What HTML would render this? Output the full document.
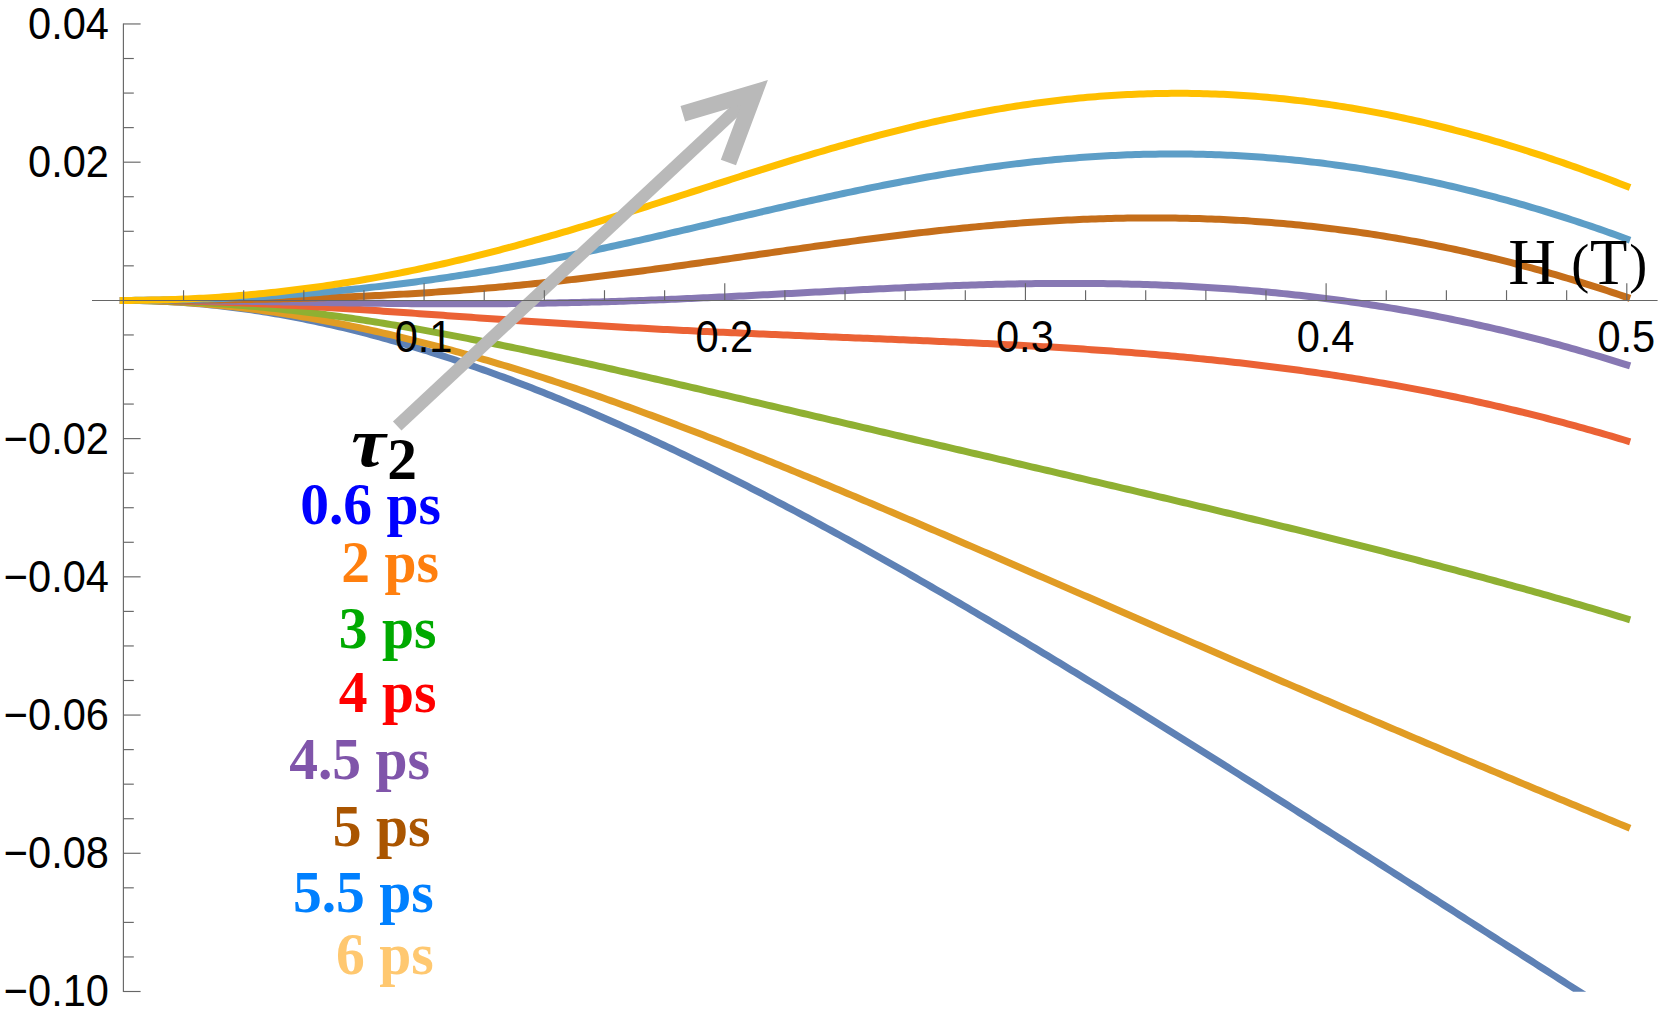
<!DOCTYPE html>
<html><head><meta charset="utf-8"><title>plot</title>
<style>
html,body{margin:0;padding:0;background:#fff;}
body{width:1661px;height:1016px;overflow:hidden;}
svg{display:block;}
.tk{font-family:"Liberation Sans",Arial,sans-serif;font-size:44.5px;fill:#000;}
.lg{font-family:"Liberation Serif","Times New Roman",serif;font-weight:bold;font-size:59.6px;}
.ax{font-family:"Liberation Serif","Times New Roman",serif;fill:#000;}
</style></head><body>
<svg width="1661" height="1016" viewBox="0 0 1661 1016">
<rect width="1661" height="1016" fill="#fff"/>
<defs><clipPath id="cp"><rect x="100" y="20" width="1561" height="971.8"/></clipPath></defs>
<g clip-path="url(#cp)" fill="none" stroke-width="7" stroke-linejoin="round" stroke-linecap="square">
<path d="M123.4,300.40 L127.4,300.41 L131.4,300.44 L135.4,300.48 L139.4,300.55 L143.4,300.63 L147.4,300.74 L151.4,300.86 L155.4,301.00 L159.4,301.16 L163.4,301.34 L167.4,301.53 L171.4,301.75 L175.4,301.98 L179.4,302.23 L183.4,302.50 L187.4,302.79 L191.4,303.10 L195.4,303.42 L199.4,303.77 L203.4,304.13 L207.4,304.51 L211.4,304.91 L215.4,305.32 L219.4,305.76 L223.4,306.21 L227.4,306.68 L231.4,307.16 L235.4,307.67 L239.4,308.19 L243.4,308.73 L247.4,309.29 L251.4,309.87 L255.4,310.46 L259.4,311.07 L263.4,311.70 L267.4,312.34 L271.4,313.00 L275.4,313.68 L279.4,314.37 L283.4,315.09 L287.4,315.81 L291.4,316.56 L295.4,317.32 L299.4,318.10 L303.4,318.89 L307.4,319.70 L311.4,320.53 L315.4,321.37 L319.4,322.23 L323.4,323.10 L327.4,323.99 L331.4,324.90 L335.4,325.82 L339.4,326.75 L343.4,327.70 L347.4,328.67 L351.4,329.65 L355.4,330.65 L359.4,331.66 L363.4,332.68 L367.4,333.73 L371.4,334.78 L375.4,335.85 L379.4,336.93 L383.4,338.03 L387.4,339.15 L391.4,340.27 L395.4,341.41 L399.4,342.57 L403.4,343.74 L407.4,344.92 L411.4,346.11 L415.4,347.32 L419.4,348.55 L423.4,349.78 L427.4,351.03 L431.4,352.29 L435.4,353.57 L439.4,354.86 L443.4,356.16 L447.4,357.47 L451.4,358.80 L455.4,360.14 L459.4,361.49 L463.4,362.85 L467.4,364.23 L471.4,365.62 L475.4,367.02 L479.4,368.43 L483.4,369.85 L487.4,371.29 L491.4,372.74 L495.4,374.20 L499.4,375.67 L503.4,377.15 L507.4,378.65 L511.4,380.15 L515.4,381.67 L519.4,383.20 L523.4,384.73 L527.4,386.28 L531.4,387.84 L535.4,389.42 L539.4,391.00 L543.4,392.59 L547.4,394.19 L551.4,395.81 L555.4,397.43 L559.4,399.07 L563.4,400.71 L567.4,402.37 L571.4,404.03 L575.4,405.71 L579.4,407.39 L583.4,409.09 L587.4,410.79 L591.4,412.51 L595.4,414.23 L599.4,415.97 L603.4,417.71 L607.4,419.46 L611.4,421.23 L615.4,423.00 L619.4,424.78 L623.4,426.57 L627.4,428.37 L631.4,430.18 L635.4,431.99 L639.4,433.82 L643.4,435.66 L647.4,437.50 L651.4,439.35 L655.4,441.21 L659.4,443.08 L663.4,444.96 L667.4,446.85 L671.4,448.74 L675.4,450.64 L679.4,452.56 L683.4,454.47 L687.4,456.40 L691.4,458.34 L695.4,460.28 L699.4,462.23 L703.4,464.19 L707.4,466.16 L711.4,468.13 L715.4,470.12 L719.4,472.11 L723.4,474.10 L727.4,476.11 L731.4,478.12 L735.4,480.14 L739.4,482.17 L743.4,484.20 L747.4,486.24 L751.4,488.29 L755.4,490.35 L759.4,492.41 L763.4,494.48 L767.4,496.55 L771.4,498.64 L775.4,500.73 L779.4,502.82 L783.4,504.93 L787.4,507.04 L791.4,509.15 L795.4,511.27 L799.4,513.40 L803.4,515.54 L807.4,517.68 L811.4,519.83 L815.4,521.98 L819.4,524.14 L823.4,526.31 L827.4,528.48 L831.4,530.66 L835.4,532.84 L839.4,535.03 L843.4,537.22 L847.4,539.42 L851.4,541.63 L855.4,543.84 L859.4,546.06 L863.4,548.28 L867.4,550.51 L871.4,552.75 L875.4,554.98 L879.4,557.23 L883.4,559.48 L887.4,561.73 L891.4,563.99 L895.4,566.26 L899.4,568.53 L903.4,570.80 L907.4,573.08 L911.4,575.37 L915.4,577.66 L919.4,579.95 L923.4,582.25 L927.4,584.55 L931.4,586.86 L935.4,589.17 L939.4,591.49 L943.4,593.81 L947.4,596.14 L951.4,598.47 L955.4,600.80 L959.4,603.14 L963.4,605.48 L967.4,607.83 L971.4,610.18 L975.4,612.53 L979.4,614.89 L983.4,617.26 L987.4,619.62 L991.4,621.99 L995.4,624.37 L999.4,626.75 L1003.4,629.13 L1007.4,631.51 L1011.4,633.90 L1015.4,636.30 L1019.4,638.69 L1023.4,641.09 L1027.4,643.49 L1031.4,645.90 L1035.4,648.31 L1039.4,650.72 L1043.4,653.14 L1047.4,655.56 L1051.4,657.98 L1055.4,660.41 L1059.4,662.84 L1063.4,665.27 L1067.4,667.70 L1071.4,670.14 L1075.4,672.58 L1079.4,675.02 L1083.4,677.47 L1087.4,679.92 L1091.4,682.37 L1095.4,684.83 L1099.4,687.28 L1103.4,689.74 L1107.4,692.21 L1111.4,694.67 L1115.4,697.14 L1119.4,699.61 L1123.4,702.08 L1127.4,704.55 L1131.4,707.03 L1135.4,709.51 L1139.4,711.99 L1143.4,714.48 L1147.4,716.96 L1151.4,719.45 L1155.4,721.94 L1159.4,724.43 L1163.4,726.93 L1167.4,729.42 L1171.4,731.92 L1175.4,734.42 L1179.4,736.92 L1183.4,739.43 L1187.4,741.93 L1191.4,744.44 L1195.4,746.95 L1199.4,749.46 L1203.4,751.97 L1207.4,754.49 L1211.4,757.00 L1215.4,759.52 L1219.4,762.04 L1223.4,764.56 L1227.4,767.08 L1231.4,769.60 L1235.4,772.13 L1239.4,774.66 L1243.4,777.18 L1247.4,779.71 L1251.4,782.24 L1255.4,784.77 L1259.4,787.31 L1263.4,789.84 L1267.4,792.38 L1271.4,794.91 L1275.4,797.45 L1279.4,799.99 L1283.4,802.53 L1287.4,805.07 L1291.4,807.61 L1295.4,810.15 L1299.4,812.70 L1303.4,815.24 L1307.4,817.79 L1311.4,820.33 L1315.4,822.88 L1319.4,825.43 L1323.4,827.98 L1327.4,830.53 L1331.4,833.08 L1335.4,835.63 L1339.4,838.18 L1343.4,840.73 L1347.4,843.29 L1351.4,845.84 L1355.4,848.39 L1359.4,850.95 L1363.4,853.50 L1367.4,856.06 L1371.4,858.62 L1375.4,861.17 L1379.4,863.73 L1383.4,866.29 L1387.4,868.85 L1391.4,871.40 L1395.4,873.96 L1399.4,876.52 L1403.4,879.08 L1407.4,881.64 L1411.4,884.20 L1415.4,886.76 L1419.4,889.32 L1423.4,891.89 L1427.4,894.45 L1431.4,897.01 L1435.4,899.57 L1439.4,902.13 L1443.4,904.69 L1447.4,907.26 L1451.4,909.82 L1455.4,912.38 L1459.4,914.94 L1463.4,917.50 L1467.4,920.07 L1471.4,922.63 L1475.4,925.19 L1479.4,927.75 L1483.4,930.32 L1487.4,932.88 L1491.4,935.44 L1495.4,938.00 L1499.4,940.57 L1503.4,943.13 L1507.4,945.69 L1511.4,948.25 L1515.4,950.81 L1519.4,953.37 L1523.4,955.93 L1527.4,958.50 L1531.4,961.06 L1535.4,963.62 L1539.4,966.18 L1543.4,968.74 L1547.4,971.30 L1551.4,973.86 L1555.4,976.42 L1559.4,978.97 L1563.4,981.53 L1567.4,984.09 L1571.4,986.65 L1575.4,989.21 L1579.4,991.76 L1583.4,994.32 L1587.4,996.88 L1591.4,999.43 L1595.4,1001.99 L1599.4,1004.54 L1603.4,1007.10 L1607.4,1009.65 L1611.4,1012.21 L1615.4,1014.76 L1619.4,1017.31 L1623.4,1019.87 L1626.8,1022.04" stroke="#5E81B5"/>
<path d="M123.4,300.40 L127.4,300.41 L131.4,300.44 L135.4,300.48 L139.4,300.54 L143.4,300.62 L147.4,300.72 L151.4,300.83 L155.4,300.97 L159.4,301.12 L163.4,301.28 L167.4,301.47 L171.4,301.67 L175.4,301.89 L179.4,302.12 L183.4,302.37 L187.4,302.64 L191.4,302.93 L195.4,303.23 L199.4,303.54 L203.4,303.88 L207.4,304.22 L211.4,304.59 L215.4,304.97 L219.4,305.36 L223.4,305.77 L227.4,306.20 L231.4,306.64 L235.4,307.09 L239.4,307.56 L243.4,308.05 L247.4,308.54 L251.4,309.05 L255.4,309.58 L259.4,310.12 L263.4,310.67 L267.4,311.24 L271.4,311.82 L275.4,312.41 L279.4,313.02 L283.4,313.64 L287.4,314.27 L291.4,314.92 L295.4,315.58 L299.4,316.25 L303.4,316.93 L307.4,317.63 L311.4,318.33 L315.4,319.05 L319.4,319.79 L323.4,320.53 L327.4,321.29 L331.4,322.05 L335.4,322.83 L339.4,323.63 L343.4,324.43 L347.4,325.24 L351.4,326.07 L355.4,326.91 L359.4,327.76 L363.4,328.62 L367.4,329.49 L371.4,330.37 L375.4,331.26 L379.4,332.17 L383.4,333.08 L387.4,334.01 L391.4,334.94 L395.4,335.89 L399.4,336.85 L403.4,337.82 L407.4,338.80 L411.4,339.79 L415.4,340.79 L419.4,341.80 L423.4,342.82 L427.4,343.85 L431.4,344.89 L435.4,345.94 L439.4,347.00 L443.4,348.06 L447.4,349.14 L451.4,350.23 L455.4,351.33 L459.4,352.44 L463.4,353.56 L467.4,354.69 L471.4,355.82 L475.4,356.97 L479.4,358.12 L483.4,359.29 L487.4,360.46 L491.4,361.64 L495.4,362.83 L499.4,364.03 L503.4,365.24 L507.4,366.46 L511.4,367.69 L515.4,368.92 L519.4,370.16 L523.4,371.41 L527.4,372.67 L531.4,373.94 L535.4,375.22 L539.4,376.50 L543.4,377.79 L547.4,379.09 L551.4,380.40 L555.4,381.71 L559.4,383.04 L563.4,384.37 L567.4,385.71 L571.4,387.05 L575.4,388.40 L579.4,389.76 L583.4,391.13 L587.4,392.51 L591.4,393.89 L595.4,395.28 L599.4,396.67 L603.4,398.07 L607.4,399.48 L611.4,400.90 L615.4,402.32 L619.4,403.75 L623.4,405.18 L627.4,406.62 L631.4,408.07 L635.4,409.53 L639.4,410.98 L643.4,412.45 L647.4,413.92 L651.4,415.40 L655.4,416.88 L659.4,418.37 L663.4,419.87 L667.4,421.37 L671.4,422.87 L675.4,424.38 L679.4,425.90 L683.4,427.42 L687.4,428.95 L691.4,430.48 L695.4,432.02 L699.4,433.56 L703.4,435.11 L707.4,436.66 L711.4,438.22 L715.4,439.78 L719.4,441.34 L723.4,442.91 L727.4,444.49 L731.4,446.07 L735.4,447.65 L739.4,449.24 L743.4,450.83 L747.4,452.42 L751.4,454.02 L755.4,455.63 L759.4,457.24 L763.4,458.85 L767.4,460.46 L771.4,462.08 L775.4,463.70 L779.4,465.33 L783.4,466.96 L787.4,468.59 L791.4,470.23 L795.4,471.87 L799.4,473.51 L803.4,475.16 L807.4,476.81 L811.4,478.46 L815.4,480.11 L819.4,481.77 L823.4,483.43 L827.4,485.10 L831.4,486.76 L835.4,488.43 L839.4,490.10 L843.4,491.78 L847.4,493.46 L851.4,495.14 L855.4,496.82 L859.4,498.50 L863.4,500.19 L867.4,501.88 L871.4,503.57 L875.4,505.26 L879.4,506.96 L883.4,508.65 L887.4,510.35 L891.4,512.05 L895.4,513.76 L899.4,515.46 L903.4,517.17 L907.4,518.87 L911.4,520.58 L915.4,522.30 L919.4,524.01 L923.4,525.72 L927.4,527.44 L931.4,529.16 L935.4,530.88 L939.4,532.60 L943.4,534.32 L947.4,536.04 L951.4,537.76 L955.4,539.49 L959.4,541.21 L963.4,542.94 L967.4,544.67 L971.4,546.40 L975.4,548.13 L979.4,549.86 L983.4,551.59 L987.4,553.33 L991.4,555.06 L995.4,556.80 L999.4,558.53 L1003.4,560.27 L1007.4,562.00 L1011.4,563.74 L1015.4,565.48 L1019.4,567.22 L1023.4,568.96 L1027.4,570.70 L1031.4,572.44 L1035.4,574.18 L1039.4,575.92 L1043.4,577.66 L1047.4,579.40 L1051.4,581.14 L1055.4,582.88 L1059.4,584.63 L1063.4,586.37 L1067.4,588.11 L1071.4,589.86 L1075.4,591.60 L1079.4,593.34 L1083.4,595.09 L1087.4,596.83 L1091.4,598.57 L1095.4,600.32 L1099.4,602.06 L1103.4,603.80 L1107.4,605.55 L1111.4,607.29 L1115.4,609.03 L1119.4,610.78 L1123.4,612.52 L1127.4,614.26 L1131.4,616.01 L1135.4,617.75 L1139.4,619.49 L1143.4,621.23 L1147.4,622.97 L1151.4,624.72 L1155.4,626.46 L1159.4,628.20 L1163.4,629.94 L1167.4,631.68 L1171.4,633.42 L1175.4,635.16 L1179.4,636.90 L1183.4,638.63 L1187.4,640.37 L1191.4,642.11 L1195.4,643.85 L1199.4,645.58 L1203.4,647.32 L1207.4,649.06 L1211.4,650.79 L1215.4,652.52 L1219.4,654.26 L1223.4,655.99 L1227.4,657.72 L1231.4,659.46 L1235.4,661.19 L1239.4,662.92 L1243.4,664.65 L1247.4,666.38 L1251.4,668.11 L1255.4,669.84 L1259.4,671.57 L1263.4,673.29 L1267.4,675.02 L1271.4,676.75 L1275.4,678.47 L1279.4,680.19 L1283.4,681.92 L1287.4,683.64 L1291.4,685.36 L1295.4,687.09 L1299.4,688.81 L1303.4,690.53 L1307.4,692.25 L1311.4,693.96 L1315.4,695.68 L1319.4,697.40 L1323.4,699.11 L1327.4,700.83 L1331.4,702.54 L1335.4,704.26 L1339.4,705.97 L1343.4,707.68 L1347.4,709.40 L1351.4,711.11 L1355.4,712.82 L1359.4,714.52 L1363.4,716.23 L1367.4,717.94 L1371.4,719.65 L1375.4,721.35 L1379.4,723.06 L1383.4,724.76 L1387.4,726.46 L1391.4,728.17 L1395.4,729.87 L1399.4,731.57 L1403.4,733.27 L1407.4,734.97 L1411.4,736.67 L1415.4,738.36 L1419.4,740.06 L1423.4,741.76 L1427.4,743.45 L1431.4,745.15 L1435.4,746.84 L1439.4,748.53 L1443.4,750.22 L1447.4,751.91 L1451.4,753.60 L1455.4,755.29 L1459.4,756.98 L1463.4,758.67 L1467.4,760.36 L1471.4,762.04 L1475.4,763.73 L1479.4,765.41 L1483.4,767.09 L1487.4,768.78 L1491.4,770.46 L1495.4,772.14 L1499.4,773.82 L1503.4,775.50 L1507.4,777.18 L1511.4,778.85 L1515.4,780.53 L1519.4,782.21 L1523.4,783.88 L1527.4,785.56 L1531.4,787.23 L1535.4,788.90 L1539.4,790.58 L1543.4,792.25 L1547.4,793.92 L1551.4,795.59 L1555.4,797.26 L1559.4,798.93 L1563.4,800.59 L1567.4,802.26 L1571.4,803.93 L1575.4,805.59 L1579.4,807.26 L1583.4,808.92 L1587.4,810.59 L1591.4,812.25 L1595.4,813.91 L1599.4,815.57 L1603.4,817.23 L1607.4,818.89 L1611.4,820.55 L1615.4,822.21 L1619.4,823.87 L1623.4,825.52 L1626.8,826.93" stroke="#E19C24"/>
<path d="M123.4,300.40 L127.4,300.41 L131.4,300.42 L135.4,300.45 L139.4,300.49 L143.4,300.55 L147.4,300.61 L151.4,300.69 L155.4,300.77 L159.4,300.87 L163.4,300.98 L167.4,301.10 L171.4,301.24 L175.4,301.38 L179.4,301.54 L183.4,301.71 L187.4,301.89 L191.4,302.08 L195.4,302.28 L199.4,302.49 L203.4,302.72 L207.4,302.95 L211.4,303.20 L215.4,303.46 L219.4,303.73 L223.4,304.01 L227.4,304.30 L231.4,304.60 L235.4,304.91 L239.4,305.23 L243.4,305.57 L247.4,305.91 L251.4,306.27 L255.4,306.63 L259.4,307.01 L263.4,307.39 L267.4,307.79 L271.4,308.19 L275.4,308.61 L279.4,309.03 L283.4,309.47 L287.4,309.91 L291.4,310.37 L295.4,310.83 L299.4,311.31 L303.4,311.79 L307.4,312.28 L311.4,312.78 L315.4,313.30 L319.4,313.81 L323.4,314.34 L327.4,314.88 L331.4,315.43 L335.4,315.98 L339.4,316.54 L343.4,317.12 L347.4,317.70 L351.4,318.28 L355.4,318.88 L359.4,319.48 L363.4,320.10 L367.4,320.72 L371.4,321.34 L375.4,321.98 L379.4,322.62 L383.4,323.27 L387.4,323.93 L391.4,324.59 L395.4,325.26 L399.4,325.94 L403.4,326.62 L407.4,327.31 L411.4,328.01 L415.4,328.71 L419.4,329.43 L423.4,330.14 L427.4,330.86 L431.4,331.59 L435.4,332.33 L439.4,333.07 L443.4,333.82 L447.4,334.57 L451.4,335.32 L455.4,336.09 L459.4,336.85 L463.4,337.63 L467.4,338.41 L471.4,339.19 L475.4,339.98 L479.4,340.77 L483.4,341.57 L487.4,342.37 L491.4,343.18 L495.4,343.99 L499.4,344.80 L503.4,345.62 L507.4,346.45 L511.4,347.27 L515.4,348.11 L519.4,348.94 L523.4,349.78 L527.4,350.62 L531.4,351.47 L535.4,352.32 L539.4,353.17 L543.4,354.03 L547.4,354.89 L551.4,355.75 L555.4,356.61 L559.4,357.48 L563.4,358.35 L567.4,359.23 L571.4,360.10 L575.4,360.98 L579.4,361.87 L583.4,362.75 L587.4,363.64 L591.4,364.53 L595.4,365.42 L599.4,366.31 L603.4,367.21 L607.4,368.11 L611.4,369.00 L615.4,369.91 L619.4,370.81 L623.4,371.72 L627.4,372.62 L631.4,373.53 L635.4,374.44 L639.4,375.35 L643.4,376.27 L647.4,377.18 L651.4,378.10 L655.4,379.01 L659.4,379.93 L663.4,380.85 L667.4,381.77 L671.4,382.70 L675.4,383.62 L679.4,384.54 L683.4,385.47 L687.4,386.40 L691.4,387.32 L695.4,388.25 L699.4,389.18 L703.4,390.11 L707.4,391.04 L711.4,391.97 L715.4,392.90 L719.4,393.83 L723.4,394.77 L727.4,395.70 L731.4,396.63 L735.4,397.57 L739.4,398.50 L743.4,399.44 L747.4,400.37 L751.4,401.31 L755.4,402.24 L759.4,403.18 L763.4,404.12 L767.4,405.05 L771.4,405.99 L775.4,406.93 L779.4,407.86 L783.4,408.80 L787.4,409.74 L791.4,410.68 L795.4,411.61 L799.4,412.55 L803.4,413.49 L807.4,414.43 L811.4,415.36 L815.4,416.30 L819.4,417.24 L823.4,418.18 L827.4,419.12 L831.4,420.05 L835.4,420.99 L839.4,421.93 L843.4,422.87 L847.4,423.80 L851.4,424.74 L855.4,425.68 L859.4,426.62 L863.4,427.55 L867.4,428.49 L871.4,429.43 L875.4,430.36 L879.4,431.30 L883.4,432.24 L887.4,433.17 L891.4,434.11 L895.4,435.04 L899.4,435.98 L903.4,436.91 L907.4,437.85 L911.4,438.78 L915.4,439.72 L919.4,440.65 L923.4,441.59 L927.4,442.52 L931.4,443.46 L935.4,444.39 L939.4,445.33 L943.4,446.26 L947.4,447.20 L951.4,448.13 L955.4,449.06 L959.4,450.00 L963.4,450.93 L967.4,451.86 L971.4,452.80 L975.4,453.73 L979.4,454.66 L983.4,455.60 L987.4,456.53 L991.4,457.46 L995.4,458.40 L999.4,459.33 L1003.4,460.26 L1007.4,461.20 L1011.4,462.13 L1015.4,463.06 L1019.4,464.00 L1023.4,464.93 L1027.4,465.86 L1031.4,466.80 L1035.4,467.73 L1039.4,468.66 L1043.4,469.60 L1047.4,470.53 L1051.4,471.46 L1055.4,472.40 L1059.4,473.33 L1063.4,474.27 L1067.4,475.20 L1071.4,476.14 L1075.4,477.07 L1079.4,478.01 L1083.4,478.94 L1087.4,479.88 L1091.4,480.82 L1095.4,481.75 L1099.4,482.69 L1103.4,483.63 L1107.4,484.57 L1111.4,485.50 L1115.4,486.44 L1119.4,487.38 L1123.4,488.32 L1127.4,489.26 L1131.4,490.20 L1135.4,491.14 L1139.4,492.09 L1143.4,493.03 L1147.4,493.97 L1151.4,494.91 L1155.4,495.86 L1159.4,496.80 L1163.4,497.75 L1167.4,498.69 L1171.4,499.64 L1175.4,500.59 L1179.4,501.54 L1183.4,502.49 L1187.4,503.44 L1191.4,504.39 L1195.4,505.34 L1199.4,506.29 L1203.4,507.24 L1207.4,508.20 L1211.4,509.15 L1215.4,510.11 L1219.4,511.07 L1223.4,512.03 L1227.4,512.98 L1231.4,513.94 L1235.4,514.91 L1239.4,515.87 L1243.4,516.83 L1247.4,517.80 L1251.4,518.76 L1255.4,519.73 L1259.4,520.70 L1263.4,521.67 L1267.4,522.64 L1271.4,523.61 L1275.4,524.58 L1279.4,525.56 L1283.4,526.54 L1287.4,527.51 L1291.4,528.49 L1295.4,529.47 L1299.4,530.45 L1303.4,531.44 L1307.4,532.42 L1311.4,533.41 L1315.4,534.40 L1319.4,535.39 L1323.4,536.38 L1327.4,537.37 L1331.4,538.37 L1335.4,539.36 L1339.4,540.36 L1343.4,541.36 L1347.4,542.37 L1351.4,543.37 L1355.4,544.38 L1359.4,545.38 L1363.4,546.39 L1367.4,547.40 L1371.4,548.42 L1375.4,549.43 L1379.4,550.45 L1383.4,551.47 L1387.4,552.49 L1391.4,553.52 L1395.4,554.54 L1399.4,555.57 L1403.4,556.60 L1407.4,557.64 L1411.4,558.67 L1415.4,559.71 L1419.4,560.75 L1423.4,561.79 L1427.4,562.84 L1431.4,563.88 L1435.4,564.93 L1439.4,565.99 L1443.4,567.04 L1447.4,568.10 L1451.4,569.16 L1455.4,570.22 L1459.4,571.29 L1463.4,572.36 L1467.4,573.43 L1471.4,574.50 L1475.4,575.58 L1479.4,576.66 L1483.4,577.74 L1487.4,578.82 L1491.4,579.91 L1495.4,581.00 L1499.4,582.10 L1503.4,583.20 L1507.4,584.30 L1511.4,585.40 L1515.4,586.51 L1519.4,587.62 L1523.4,588.73 L1527.4,589.85 L1531.4,590.97 L1535.4,592.09 L1539.4,593.22 L1543.4,594.35 L1547.4,595.48 L1551.4,596.62 L1555.4,597.76 L1559.4,598.91 L1563.4,600.05 L1567.4,601.21 L1571.4,602.36 L1575.4,603.52 L1579.4,604.68 L1583.4,605.85 L1587.4,607.02 L1591.4,608.20 L1595.4,609.38 L1599.4,610.56 L1603.4,611.75 L1607.4,612.94 L1611.4,614.13 L1615.4,615.33 L1619.4,616.53 L1623.4,617.74 L1626.8,618.77" stroke="#8FB032"/>
<path d="M123.4,300.40 L127.4,300.40 L131.4,300.41 L135.4,300.43 L139.4,300.45 L143.4,300.48 L147.4,300.51 L151.4,300.55 L155.4,300.59 L159.4,300.64 L163.4,300.70 L167.4,300.76 L171.4,300.83 L175.4,300.91 L179.4,300.99 L183.4,301.07 L187.4,301.17 L191.4,301.26 L195.4,301.37 L199.4,301.48 L203.4,301.59 L207.4,301.71 L211.4,301.84 L215.4,301.97 L219.4,302.10 L223.4,302.24 L227.4,302.39 L231.4,302.54 L235.4,302.69 L239.4,302.86 L243.4,303.02 L247.4,303.19 L251.4,303.37 L255.4,303.55 L259.4,303.73 L263.4,303.92 L267.4,304.11 L271.4,304.31 L275.4,304.51 L279.4,304.71 L283.4,304.92 L287.4,305.14 L291.4,305.35 L295.4,305.57 L299.4,305.80 L303.4,306.02 L307.4,306.26 L311.4,306.49 L315.4,306.73 L319.4,306.97 L323.4,307.21 L327.4,307.45 L331.4,307.70 L335.4,307.95 L339.4,308.21 L343.4,308.46 L347.4,308.72 L351.4,308.98 L355.4,309.25 L359.4,309.51 L363.4,309.78 L367.4,310.05 L371.4,310.32 L375.4,310.59 L379.4,310.86 L383.4,311.14 L387.4,311.41 L391.4,311.69 L395.4,311.97 L399.4,312.25 L403.4,312.53 L407.4,312.81 L411.4,313.09 L415.4,313.37 L419.4,313.65 L423.4,313.94 L427.4,314.22 L431.4,314.51 L435.4,314.79 L439.4,315.08 L443.4,315.36 L447.4,315.64 L451.4,315.93 L455.4,316.21 L459.4,316.50 L463.4,316.78 L467.4,317.06 L471.4,317.35 L475.4,317.63 L479.4,317.91 L483.4,318.19 L487.4,318.47 L491.4,318.75 L495.4,319.03 L499.4,319.30 L503.4,319.58 L507.4,319.85 L511.4,320.13 L515.4,320.40 L519.4,320.67 L523.4,320.94 L527.4,321.21 L531.4,321.48 L535.4,321.75 L539.4,322.01 L543.4,322.28 L547.4,322.54 L551.4,322.80 L555.4,323.06 L559.4,323.31 L563.4,323.57 L567.4,323.82 L571.4,324.07 L575.4,324.33 L579.4,324.57 L583.4,324.82 L587.4,325.07 L591.4,325.31 L595.4,325.55 L599.4,325.79 L603.4,326.03 L607.4,326.27 L611.4,326.50 L615.4,326.73 L619.4,326.96 L623.4,327.19 L627.4,327.42 L631.4,327.64 L635.4,327.87 L639.4,328.09 L643.4,328.31 L647.4,328.52 L651.4,328.74 L655.4,328.95 L659.4,329.17 L663.4,329.38 L667.4,329.58 L671.4,329.79 L675.4,330.00 L679.4,330.20 L683.4,330.40 L687.4,330.60 L691.4,330.80 L695.4,330.99 L699.4,331.19 L703.4,331.38 L707.4,331.57 L711.4,331.76 L715.4,331.95 L719.4,332.14 L723.4,332.32 L727.4,332.51 L731.4,332.69 L735.4,332.87 L739.4,333.05 L743.4,333.23 L747.4,333.41 L751.4,333.58 L755.4,333.76 L759.4,333.93 L763.4,334.11 L767.4,334.28 L771.4,334.45 L775.4,334.62 L779.4,334.79 L783.4,334.96 L787.4,335.12 L791.4,335.29 L795.4,335.45 L799.4,335.62 L803.4,335.78 L807.4,335.95 L811.4,336.11 L815.4,336.27 L819.4,336.44 L823.4,336.60 L827.4,336.76 L831.4,336.92 L835.4,337.08 L839.4,337.24 L843.4,337.40 L847.4,337.56 L851.4,337.73 L855.4,337.89 L859.4,338.05 L863.4,338.21 L867.4,338.37 L871.4,338.53 L875.4,338.69 L879.4,338.86 L883.4,339.02 L887.4,339.18 L891.4,339.35 L895.4,339.51 L899.4,339.68 L903.4,339.84 L907.4,340.01 L911.4,340.18 L915.4,340.35 L919.4,340.51 L923.4,340.69 L927.4,340.86 L931.4,341.03 L935.4,341.21 L939.4,341.38 L943.4,341.56 L947.4,341.74 L951.4,341.92 L955.4,342.10 L959.4,342.28 L963.4,342.47 L967.4,342.65 L971.4,342.84 L975.4,343.03 L979.4,343.22 L983.4,343.42 L987.4,343.61 L991.4,343.81 L995.4,344.01 L999.4,344.22 L1003.4,344.42 L1007.4,344.63 L1011.4,344.84 L1015.4,345.05 L1019.4,345.27 L1023.4,345.48 L1027.4,345.71 L1031.4,345.93 L1035.4,346.15 L1039.4,346.38 L1043.4,346.62 L1047.4,346.85 L1051.4,347.09 L1055.4,347.33 L1059.4,347.57 L1063.4,347.82 L1067.4,348.07 L1071.4,348.33 L1075.4,348.58 L1079.4,348.85 L1083.4,349.11 L1087.4,349.38 L1091.4,349.65 L1095.4,349.93 L1099.4,350.21 L1103.4,350.49 L1107.4,350.78 L1111.4,351.07 L1115.4,351.37 L1119.4,351.66 L1123.4,351.97 L1127.4,352.28 L1131.4,352.59 L1135.4,352.91 L1139.4,353.23 L1143.4,353.55 L1147.4,353.88 L1151.4,354.22 L1155.4,354.56 L1159.4,354.90 L1163.4,355.25 L1167.4,355.60 L1171.4,355.96 L1175.4,356.32 L1179.4,356.69 L1183.4,357.07 L1187.4,357.44 L1191.4,357.83 L1195.4,358.22 L1199.4,358.61 L1203.4,359.01 L1207.4,359.41 L1211.4,359.82 L1215.4,360.24 L1219.4,360.66 L1223.4,361.09 L1227.4,361.52 L1231.4,361.96 L1235.4,362.40 L1239.4,362.85 L1243.4,363.31 L1247.4,363.77 L1251.4,364.24 L1255.4,364.71 L1259.4,365.19 L1263.4,365.67 L1267.4,366.16 L1271.4,366.66 L1275.4,367.17 L1279.4,367.68 L1283.4,368.19 L1287.4,368.72 L1291.4,369.24 L1295.4,369.78 L1299.4,370.32 L1303.4,370.87 L1307.4,371.43 L1311.4,371.99 L1315.4,372.56 L1319.4,373.13 L1323.4,373.72 L1327.4,374.31 L1331.4,374.90 L1335.4,375.51 L1339.4,376.12 L1343.4,376.73 L1347.4,377.36 L1351.4,377.99 L1355.4,378.63 L1359.4,379.27 L1363.4,379.93 L1367.4,380.59 L1371.4,381.25 L1375.4,381.93 L1379.4,382.61 L1383.4,383.30 L1387.4,384.00 L1391.4,384.71 L1395.4,385.42 L1399.4,386.14 L1403.4,386.87 L1407.4,387.60 L1411.4,388.35 L1415.4,389.10 L1419.4,389.86 L1423.4,390.62 L1427.4,391.40 L1431.4,392.18 L1435.4,392.97 L1439.4,393.77 L1443.4,394.58 L1447.4,395.39 L1451.4,396.21 L1455.4,397.05 L1459.4,397.89 L1463.4,398.73 L1467.4,399.59 L1471.4,400.45 L1475.4,401.33 L1479.4,402.21 L1483.4,403.10 L1487.4,403.99 L1491.4,404.90 L1495.4,405.81 L1499.4,406.74 L1503.4,407.67 L1507.4,408.61 L1511.4,409.56 L1515.4,410.52 L1519.4,411.48 L1523.4,412.46 L1527.4,413.44 L1531.4,414.44 L1535.4,415.44 L1539.4,416.45 L1543.4,417.47 L1547.4,418.50 L1551.4,419.53 L1555.4,420.58 L1559.4,421.63 L1563.4,422.70 L1567.4,423.77 L1571.4,424.85 L1575.4,425.95 L1579.4,427.05 L1583.4,428.16 L1587.4,429.27 L1591.4,430.40 L1595.4,431.54 L1599.4,432.69 L1603.4,433.84 L1607.4,435.01 L1611.4,436.18 L1615.4,437.37 L1619.4,438.56 L1623.4,439.76 L1626.8,440.79" stroke="#EB6235"/>
<path d="M123.4,300.40 L127.4,300.40 L131.4,300.40 L135.4,300.41 L139.4,300.42 L143.4,300.43 L147.4,300.44 L151.4,300.45 L155.4,300.47 L159.4,300.49 L163.4,300.51 L167.4,300.53 L171.4,300.56 L175.4,300.58 L179.4,300.61 L183.4,300.64 L187.4,300.68 L191.4,300.71 L195.4,300.75 L199.4,300.78 L203.4,300.82 L207.4,300.87 L211.4,300.91 L215.4,300.95 L219.4,301.00 L223.4,301.05 L227.4,301.10 L231.4,301.15 L235.4,301.20 L239.4,301.25 L243.4,301.31 L247.4,301.36 L251.4,301.42 L255.4,301.48 L259.4,301.53 L263.4,301.59 L267.4,301.65 L271.4,301.71 L275.4,301.77 L279.4,301.84 L283.4,301.90 L287.4,301.96 L291.4,302.02 L295.4,302.09 L299.4,302.15 L303.4,302.21 L307.4,302.28 L311.4,302.34 L315.4,302.40 L319.4,302.46 L323.4,302.53 L327.4,302.59 L331.4,302.65 L335.4,302.71 L339.4,302.77 L343.4,302.83 L347.4,302.89 L351.4,302.94 L355.4,303.00 L359.4,303.06 L363.4,303.11 L367.4,303.16 L371.4,303.21 L375.4,303.26 L379.4,303.31 L383.4,303.36 L387.4,303.40 L391.4,303.45 L395.4,303.49 L399.4,303.53 L403.4,303.56 L407.4,303.60 L411.4,303.63 L415.4,303.66 L419.4,303.69 L423.4,303.72 L427.4,303.74 L431.4,303.76 L435.4,303.78 L439.4,303.80 L443.4,303.81 L447.4,303.83 L451.4,303.83 L455.4,303.84 L459.4,303.84 L463.4,303.84 L467.4,303.84 L471.4,303.83 L475.4,303.82 L479.4,303.81 L483.4,303.80 L487.4,303.78 L491.4,303.76 L495.4,303.73 L499.4,303.70 L503.4,303.67 L507.4,303.64 L511.4,303.60 L515.4,303.56 L519.4,303.51 L523.4,303.46 L527.4,303.41 L531.4,303.36 L535.4,303.30 L539.4,303.23 L543.4,303.17 L547.4,303.10 L551.4,303.03 L555.4,302.95 L559.4,302.87 L563.4,302.79 L567.4,302.70 L571.4,302.61 L575.4,302.52 L579.4,302.42 L583.4,302.32 L587.4,302.22 L591.4,302.11 L595.4,302.00 L599.4,301.88 L603.4,301.77 L607.4,301.65 L611.4,301.52 L615.4,301.40 L619.4,301.27 L623.4,301.13 L627.4,301.00 L631.4,300.86 L635.4,300.71 L639.4,300.57 L643.4,300.42 L647.4,300.27 L651.4,300.11 L655.4,299.96 L659.4,299.80 L663.4,299.63 L667.4,299.47 L671.4,299.30 L675.4,299.13 L679.4,298.96 L683.4,298.78 L687.4,298.60 L691.4,298.42 L695.4,298.24 L699.4,298.06 L703.4,297.87 L707.4,297.68 L711.4,297.49 L715.4,297.30 L719.4,297.10 L723.4,296.91 L727.4,296.71 L731.4,296.51 L735.4,296.31 L739.4,296.11 L743.4,295.91 L747.4,295.70 L751.4,295.50 L755.4,295.29 L759.4,295.08 L763.4,294.87 L767.4,294.66 L771.4,294.45 L775.4,294.24 L779.4,294.03 L783.4,293.82 L787.4,293.60 L791.4,293.39 L795.4,293.18 L799.4,292.97 L803.4,292.75 L807.4,292.54 L811.4,292.33 L815.4,292.11 L819.4,291.90 L823.4,291.69 L827.4,291.48 L831.4,291.27 L835.4,291.06 L839.4,290.85 L843.4,290.64 L847.4,290.43 L851.4,290.23 L855.4,290.02 L859.4,289.82 L863.4,289.62 L867.4,289.42 L871.4,289.22 L875.4,289.02 L879.4,288.82 L883.4,288.63 L887.4,288.44 L891.4,288.25 L895.4,288.06 L899.4,287.88 L903.4,287.69 L907.4,287.51 L911.4,287.34 L915.4,287.16 L919.4,286.99 L923.4,286.82 L927.4,286.65 L931.4,286.49 L935.4,286.33 L939.4,286.17 L943.4,286.02 L947.4,285.87 L951.4,285.72 L955.4,285.58 L959.4,285.44 L963.4,285.30 L967.4,285.17 L971.4,285.04 L975.4,284.92 L979.4,284.80 L983.4,284.68 L987.4,284.57 L991.4,284.46 L995.4,284.36 L999.4,284.26 L1003.4,284.17 L1007.4,284.08 L1011.4,284.00 L1015.4,283.92 L1019.4,283.84 L1023.4,283.78 L1027.4,283.71 L1031.4,283.65 L1035.4,283.60 L1039.4,283.55 L1043.4,283.51 L1047.4,283.47 L1051.4,283.44 L1055.4,283.42 L1059.4,283.40 L1063.4,283.39 L1067.4,283.38 L1071.4,283.38 L1075.4,283.38 L1079.4,283.39 L1083.4,283.41 L1087.4,283.43 L1091.4,283.46 L1095.4,283.50 L1099.4,283.54 L1103.4,283.59 L1107.4,283.65 L1111.4,283.71 L1115.4,283.78 L1119.4,283.85 L1123.4,283.94 L1127.4,284.03 L1131.4,284.13 L1135.4,284.23 L1139.4,284.34 L1143.4,284.46 L1147.4,284.59 L1151.4,284.72 L1155.4,284.86 L1159.4,285.01 L1163.4,285.17 L1167.4,285.33 L1171.4,285.50 L1175.4,285.68 L1179.4,285.87 L1183.4,286.06 L1187.4,286.27 L1191.4,286.48 L1195.4,286.70 L1199.4,286.92 L1203.4,287.16 L1207.4,287.40 L1211.4,287.65 L1215.4,287.91 L1219.4,288.18 L1223.4,288.46 L1227.4,288.74 L1231.4,289.03 L1235.4,289.34 L1239.4,289.65 L1243.4,289.96 L1247.4,290.29 L1251.4,290.63 L1255.4,290.97 L1259.4,291.33 L1263.4,291.69 L1267.4,292.06 L1271.4,292.44 L1275.4,292.83 L1279.4,293.22 L1283.4,293.63 L1287.4,294.05 L1291.4,294.47 L1295.4,294.91 L1299.4,295.35 L1303.4,295.80 L1307.4,296.26 L1311.4,296.73 L1315.4,297.21 L1319.4,297.70 L1323.4,298.20 L1327.4,298.71 L1331.4,299.23 L1335.4,299.75 L1339.4,300.29 L1343.4,300.84 L1347.4,301.39 L1351.4,301.96 L1355.4,302.53 L1359.4,303.11 L1363.4,303.71 L1367.4,304.31 L1371.4,304.92 L1375.4,305.55 L1379.4,306.18 L1383.4,306.82 L1387.4,307.47 L1391.4,308.13 L1395.4,308.81 L1399.4,309.49 L1403.4,310.18 L1407.4,310.88 L1411.4,311.59 L1415.4,312.31 L1419.4,313.04 L1423.4,313.78 L1427.4,314.53 L1431.4,315.29 L1435.4,316.06 L1439.4,316.84 L1443.4,317.64 L1447.4,318.44 L1451.4,319.25 L1455.4,320.07 L1459.4,320.90 L1463.4,321.74 L1467.4,322.59 L1471.4,323.45 L1475.4,324.32 L1479.4,325.21 L1483.4,326.10 L1487.4,327.00 L1491.4,327.91 L1495.4,328.84 L1499.4,329.77 L1503.4,330.71 L1507.4,331.66 L1511.4,332.63 L1515.4,333.60 L1519.4,334.59 L1523.4,335.58 L1527.4,336.59 L1531.4,337.60 L1535.4,338.63 L1539.4,339.66 L1543.4,340.71 L1547.4,341.76 L1551.4,342.83 L1555.4,343.91 L1559.4,344.99 L1563.4,346.09 L1567.4,347.20 L1571.4,348.32 L1575.4,349.45 L1579.4,350.59 L1583.4,351.74 L1587.4,352.89 L1591.4,354.07 L1595.4,355.25 L1599.4,356.44 L1603.4,357.64 L1607.4,358.85 L1611.4,360.07 L1615.4,361.30 L1619.4,362.55 L1623.4,363.80 L1626.8,364.87" stroke="#8778B3"/>
<path d="M123.4,300.40 L127.4,300.40 L131.4,300.40 L135.4,300.39 L139.4,300.39 L143.4,300.38 L147.4,300.37 L151.4,300.36 L155.4,300.35 L159.4,300.33 L163.4,300.32 L167.4,300.30 L171.4,300.28 L175.4,300.26 L179.4,300.23 L183.4,300.21 L187.4,300.18 L191.4,300.15 L195.4,300.12 L199.4,300.08 L203.4,300.05 L207.4,300.01 L211.4,299.97 L215.4,299.93 L219.4,299.88 L223.4,299.84 L227.4,299.79 L231.4,299.73 L235.4,299.68 L239.4,299.62 L243.4,299.56 L247.4,299.50 L251.4,299.43 L255.4,299.36 L259.4,299.29 L263.4,299.22 L267.4,299.14 L271.4,299.06 L275.4,298.97 L279.4,298.89 L283.4,298.80 L287.4,298.70 L291.4,298.60 L295.4,298.50 L299.4,298.40 L303.4,298.29 L307.4,298.17 L311.4,298.06 L315.4,297.94 L319.4,297.81 L323.4,297.68 L327.4,297.55 L331.4,297.41 L335.4,297.27 L339.4,297.12 L343.4,296.97 L347.4,296.82 L351.4,296.66 L355.4,296.49 L359.4,296.32 L363.4,296.15 L367.4,295.97 L371.4,295.79 L375.4,295.60 L379.4,295.40 L383.4,295.20 L387.4,295.00 L391.4,294.79 L395.4,294.58 L399.4,294.36 L403.4,294.13 L407.4,293.90 L411.4,293.66 L415.4,293.42 L419.4,293.18 L423.4,292.92 L427.4,292.66 L431.4,292.40 L435.4,292.13 L439.4,291.86 L443.4,291.58 L447.4,291.29 L451.4,291.00 L455.4,290.70 L459.4,290.40 L463.4,290.09 L467.4,289.77 L471.4,289.45 L475.4,289.13 L479.4,288.80 L483.4,288.46 L487.4,288.11 L491.4,287.76 L495.4,287.41 L499.4,287.05 L503.4,286.68 L507.4,286.31 L511.4,285.93 L515.4,285.55 L519.4,285.16 L523.4,284.77 L527.4,284.37 L531.4,283.97 L535.4,283.56 L539.4,283.14 L543.4,282.72 L547.4,282.29 L551.4,281.86 L555.4,281.43 L559.4,280.98 L563.4,280.54 L567.4,280.09 L571.4,279.63 L575.4,279.17 L579.4,278.70 L583.4,278.23 L587.4,277.76 L591.4,277.28 L595.4,276.79 L599.4,276.30 L603.4,275.81 L607.4,275.31 L611.4,274.81 L615.4,274.31 L619.4,273.80 L623.4,273.29 L627.4,272.77 L631.4,272.25 L635.4,271.73 L639.4,271.20 L643.4,270.67 L647.4,270.13 L651.4,269.60 L655.4,269.06 L659.4,268.51 L663.4,267.97 L667.4,267.42 L671.4,266.87 L675.4,266.31 L679.4,265.76 L683.4,265.20 L687.4,264.64 L691.4,264.08 L695.4,263.51 L699.4,262.95 L703.4,262.38 L707.4,261.81 L711.4,261.24 L715.4,260.67 L719.4,260.09 L723.4,259.52 L727.4,258.95 L731.4,258.37 L735.4,257.79 L739.4,257.22 L743.4,256.64 L747.4,256.06 L751.4,255.48 L755.4,254.91 L759.4,254.33 L763.4,253.75 L767.4,253.18 L771.4,252.60 L775.4,252.02 L779.4,251.45 L783.4,250.87 L787.4,250.30 L791.4,249.73 L795.4,249.16 L799.4,248.59 L803.4,248.02 L807.4,247.46 L811.4,246.89 L815.4,246.33 L819.4,245.77 L823.4,245.21 L827.4,244.66 L831.4,244.10 L835.4,243.55 L839.4,243.01 L843.4,242.46 L847.4,241.92 L851.4,241.38 L855.4,240.85 L859.4,240.31 L863.4,239.79 L867.4,239.26 L871.4,238.74 L875.4,238.22 L879.4,237.71 L883.4,237.20 L887.4,236.69 L891.4,236.19 L895.4,235.70 L899.4,235.21 L903.4,234.72 L907.4,234.24 L911.4,233.76 L915.4,233.29 L919.4,232.82 L923.4,232.36 L927.4,231.90 L931.4,231.45 L935.4,231.00 L939.4,230.56 L943.4,230.13 L947.4,229.70 L951.4,229.28 L955.4,228.86 L959.4,228.46 L963.4,228.05 L967.4,227.65 L971.4,227.26 L975.4,226.88 L979.4,226.50 L983.4,226.13 L987.4,225.77 L991.4,225.41 L995.4,225.07 L999.4,224.72 L1003.4,224.39 L1007.4,224.06 L1011.4,223.74 L1015.4,223.43 L1019.4,223.13 L1023.4,222.83 L1027.4,222.54 L1031.4,222.26 L1035.4,221.99 L1039.4,221.72 L1043.4,221.47 L1047.4,221.22 L1051.4,220.98 L1055.4,220.75 L1059.4,220.53 L1063.4,220.31 L1067.4,220.11 L1071.4,219.91 L1075.4,219.72 L1079.4,219.54 L1083.4,219.37 L1087.4,219.21 L1091.4,219.06 L1095.4,218.92 L1099.4,218.78 L1103.4,218.66 L1107.4,218.54 L1111.4,218.44 L1115.4,218.34 L1119.4,218.26 L1123.4,218.18 L1127.4,218.11 L1131.4,218.05 L1135.4,218.01 L1139.4,217.97 L1143.4,217.94 L1147.4,217.92 L1151.4,217.92 L1155.4,217.92 L1159.4,217.93 L1163.4,217.95 L1167.4,217.99 L1171.4,218.03 L1175.4,218.08 L1179.4,218.15 L1183.4,218.22 L1187.4,218.31 L1191.4,218.40 L1195.4,218.51 L1199.4,218.62 L1203.4,218.75 L1207.4,218.89 L1211.4,219.04 L1215.4,219.20 L1219.4,219.37 L1223.4,219.55 L1227.4,219.74 L1231.4,219.94 L1235.4,220.15 L1239.4,220.38 L1243.4,220.61 L1247.4,220.86 L1251.4,221.12 L1255.4,221.39 L1259.4,221.67 L1263.4,221.96 L1267.4,222.26 L1271.4,222.58 L1275.4,222.90 L1279.4,223.24 L1283.4,223.59 L1287.4,223.94 L1291.4,224.32 L1295.4,224.70 L1299.4,225.09 L1303.4,225.50 L1307.4,225.91 L1311.4,226.34 L1315.4,226.78 L1319.4,227.23 L1323.4,227.69 L1327.4,228.17 L1331.4,228.65 L1335.4,229.15 L1339.4,229.66 L1343.4,230.18 L1347.4,230.71 L1351.4,231.25 L1355.4,231.81 L1359.4,232.38 L1363.4,232.96 L1367.4,233.55 L1371.4,234.15 L1375.4,234.76 L1379.4,235.39 L1383.4,236.03 L1387.4,236.68 L1391.4,237.34 L1395.4,238.01 L1399.4,238.70 L1403.4,239.40 L1407.4,240.10 L1411.4,240.83 L1415.4,241.56 L1419.4,242.30 L1423.4,243.06 L1427.4,243.83 L1431.4,244.61 L1435.4,245.40 L1439.4,246.20 L1443.4,247.02 L1447.4,247.85 L1451.4,248.69 L1455.4,249.54 L1459.4,250.40 L1463.4,251.28 L1467.4,252.17 L1471.4,253.07 L1475.4,253.98 L1479.4,254.90 L1483.4,255.84 L1487.4,256.78 L1491.4,257.74 L1495.4,258.72 L1499.4,259.70 L1503.4,260.69 L1507.4,261.70 L1511.4,262.72 L1515.4,263.75 L1519.4,264.79 L1523.4,265.85 L1527.4,266.92 L1531.4,267.99 L1535.4,269.09 L1539.4,270.19 L1543.4,271.30 L1547.4,272.43 L1551.4,273.57 L1555.4,274.72 L1559.4,275.88 L1563.4,277.05 L1567.4,278.24 L1571.4,279.44 L1575.4,280.65 L1579.4,281.87 L1583.4,283.10 L1587.4,284.35 L1591.4,285.61 L1595.4,286.88 L1599.4,288.16 L1603.4,289.45 L1607.4,290.76 L1611.4,292.07 L1615.4,293.40 L1619.4,294.74 L1623.4,296.09 L1626.8,297.25" stroke="#C56E1A"/>
<path d="M123.4,300.40 L127.4,300.40 L131.4,300.39 L135.4,300.37 L139.4,300.35 L143.4,300.32 L147.4,300.29 L151.4,300.24 L155.4,300.20 L159.4,300.14 L163.4,300.08 L167.4,300.01 L171.4,299.94 L175.4,299.86 L179.4,299.77 L183.4,299.68 L187.4,299.58 L191.4,299.48 L195.4,299.36 L199.4,299.24 L203.4,299.12 L207.4,298.98 L211.4,298.85 L215.4,298.70 L219.4,298.55 L223.4,298.39 L227.4,298.22 L231.4,298.05 L235.4,297.87 L239.4,297.68 L243.4,297.48 L247.4,297.28 L251.4,297.07 L255.4,296.86 L259.4,296.64 L263.4,296.41 L267.4,296.17 L271.4,295.92 L275.4,295.67 L279.4,295.41 L283.4,295.14 L287.4,294.87 L291.4,294.59 L295.4,294.30 L299.4,294.00 L303.4,293.70 L307.4,293.39 L311.4,293.07 L315.4,292.74 L319.4,292.40 L323.4,292.06 L327.4,291.71 L331.4,291.35 L335.4,290.98 L339.4,290.61 L343.4,290.22 L347.4,289.83 L351.4,289.43 L355.4,289.02 L359.4,288.61 L363.4,288.18 L367.4,287.75 L371.4,287.31 L375.4,286.86 L379.4,286.41 L383.4,285.94 L387.4,285.47 L391.4,284.99 L395.4,284.50 L399.4,284.00 L403.4,283.49 L407.4,282.98 L411.4,282.46 L415.4,281.93 L419.4,281.39 L423.4,280.84 L427.4,280.28 L431.4,279.72 L435.4,279.14 L439.4,278.56 L443.4,277.97 L447.4,277.38 L451.4,276.77 L455.4,276.16 L459.4,275.54 L463.4,274.91 L467.4,274.27 L471.4,273.62 L475.4,272.97 L479.4,272.31 L483.4,271.64 L487.4,270.96 L491.4,270.28 L495.4,269.58 L499.4,268.88 L503.4,268.17 L507.4,267.46 L511.4,266.74 L515.4,266.01 L519.4,265.27 L523.4,264.52 L527.4,263.77 L531.4,263.01 L535.4,262.25 L539.4,261.48 L543.4,260.70 L547.4,259.91 L551.4,259.12 L555.4,258.32 L559.4,257.51 L563.4,256.70 L567.4,255.89 L571.4,255.06 L575.4,254.23 L579.4,253.40 L583.4,252.56 L587.4,251.71 L591.4,250.86 L595.4,250.01 L599.4,249.15 L603.4,248.28 L607.4,247.41 L611.4,246.53 L615.4,245.65 L619.4,244.77 L623.4,243.88 L627.4,242.99 L631.4,242.09 L635.4,241.19 L639.4,240.29 L643.4,239.38 L647.4,238.47 L651.4,237.56 L655.4,236.64 L659.4,235.72 L663.4,234.80 L667.4,233.87 L671.4,232.95 L675.4,232.02 L679.4,231.09 L683.4,230.16 L687.4,229.22 L691.4,228.29 L695.4,227.35 L699.4,226.42 L703.4,225.48 L707.4,224.54 L711.4,223.60 L715.4,222.66 L719.4,221.72 L723.4,220.78 L727.4,219.84 L731.4,218.90 L735.4,217.96 L739.4,217.03 L743.4,216.09 L747.4,215.15 L751.4,214.22 L755.4,213.29 L759.4,212.35 L763.4,211.43 L767.4,210.50 L771.4,209.57 L775.4,208.65 L779.4,207.73 L783.4,206.81 L787.4,205.90 L791.4,204.99 L795.4,204.08 L799.4,203.18 L803.4,202.28 L807.4,201.38 L811.4,200.49 L815.4,199.60 L819.4,198.71 L823.4,197.83 L827.4,196.96 L831.4,196.09 L835.4,195.22 L839.4,194.36 L843.4,193.51 L847.4,192.66 L851.4,191.81 L855.4,190.98 L859.4,190.14 L863.4,189.32 L867.4,188.50 L871.4,187.69 L875.4,186.88 L879.4,186.08 L883.4,185.29 L887.4,184.50 L891.4,183.72 L895.4,182.95 L899.4,182.19 L903.4,181.43 L907.4,180.69 L911.4,179.95 L915.4,179.21 L919.4,178.49 L923.4,177.77 L927.4,177.07 L931.4,176.37 L935.4,175.68 L939.4,175.00 L943.4,174.33 L947.4,173.66 L951.4,173.01 L955.4,172.37 L959.4,171.73 L963.4,171.11 L967.4,170.49 L971.4,169.88 L975.4,169.29 L979.4,168.70 L983.4,168.13 L987.4,167.56 L991.4,167.01 L995.4,166.46 L999.4,165.93 L1003.4,165.40 L1007.4,164.89 L1011.4,164.39 L1015.4,163.90 L1019.4,163.41 L1023.4,162.95 L1027.4,162.49 L1031.4,162.04 L1035.4,161.60 L1039.4,161.18 L1043.4,160.77 L1047.4,160.37 L1051.4,159.98 L1055.4,159.60 L1059.4,159.23 L1063.4,158.88 L1067.4,158.54 L1071.4,158.21 L1075.4,157.89 L1079.4,157.58 L1083.4,157.29 L1087.4,157.00 L1091.4,156.74 L1095.4,156.48 L1099.4,156.23 L1103.4,156.00 L1107.4,155.78 L1111.4,155.57 L1115.4,155.38 L1119.4,155.20 L1123.4,155.03 L1127.4,154.87 L1131.4,154.73 L1135.4,154.59 L1139.4,154.48 L1143.4,154.37 L1147.4,154.28 L1151.4,154.20 L1155.4,154.13 L1159.4,154.08 L1163.4,154.04 L1167.4,154.01 L1171.4,154.00 L1175.4,153.99 L1179.4,154.01 L1183.4,154.03 L1187.4,154.07 L1191.4,154.12 L1195.4,154.19 L1199.4,154.26 L1203.4,154.36 L1207.4,154.46 L1211.4,154.58 L1215.4,154.71 L1219.4,154.86 L1223.4,155.01 L1227.4,155.19 L1231.4,155.37 L1235.4,155.57 L1239.4,155.78 L1243.4,156.01 L1247.4,156.25 L1251.4,156.50 L1255.4,156.76 L1259.4,157.04 L1263.4,157.34 L1267.4,157.64 L1271.4,157.96 L1275.4,158.29 L1279.4,158.64 L1283.4,159.00 L1287.4,159.37 L1291.4,159.76 L1295.4,160.16 L1299.4,160.58 L1303.4,161.00 L1307.4,161.45 L1311.4,161.90 L1315.4,162.37 L1319.4,162.85 L1323.4,163.34 L1327.4,163.85 L1331.4,164.37 L1335.4,164.91 L1339.4,165.46 L1343.4,166.02 L1347.4,166.60 L1351.4,167.19 L1355.4,167.79 L1359.4,168.40 L1363.4,169.03 L1367.4,169.67 L1371.4,170.33 L1375.4,171.00 L1379.4,171.68 L1383.4,172.38 L1387.4,173.09 L1391.4,173.81 L1395.4,174.54 L1399.4,175.29 L1403.4,176.05 L1407.4,176.83 L1411.4,177.62 L1415.4,178.42 L1419.4,179.23 L1423.4,180.06 L1427.4,180.90 L1431.4,181.76 L1435.4,182.62 L1439.4,183.50 L1443.4,184.40 L1447.4,185.30 L1451.4,186.22 L1455.4,187.15 L1459.4,188.10 L1463.4,189.06 L1467.4,190.03 L1471.4,191.01 L1475.4,192.01 L1479.4,193.02 L1483.4,194.04 L1487.4,195.08 L1491.4,196.12 L1495.4,197.18 L1499.4,198.26 L1503.4,199.34 L1507.4,200.44 L1511.4,201.55 L1515.4,202.68 L1519.4,203.82 L1523.4,204.97 L1527.4,206.13 L1531.4,207.30 L1535.4,208.49 L1539.4,209.69 L1543.4,210.90 L1547.4,212.13 L1551.4,213.36 L1555.4,214.61 L1559.4,215.87 L1563.4,217.15 L1567.4,218.43 L1571.4,219.73 L1575.4,221.04 L1579.4,222.37 L1583.4,223.70 L1587.4,225.05 L1591.4,226.41 L1595.4,227.78 L1599.4,229.17 L1603.4,230.56 L1607.4,231.97 L1611.4,233.39 L1615.4,234.82 L1619.4,236.27 L1623.4,237.72 L1626.8,238.97" stroke="#5D9EC7"/>
<path d="M123.4,300.40 L127.4,300.39 L131.4,300.38 L135.4,300.35 L139.4,300.31 L143.4,300.26 L147.4,300.20 L151.4,300.12 L155.4,300.04 L159.4,299.94 L163.4,299.83 L167.4,299.71 L171.4,299.58 L175.4,299.44 L179.4,299.28 L183.4,299.12 L187.4,298.94 L191.4,298.76 L195.4,298.56 L199.4,298.34 L203.4,298.12 L207.4,297.89 L211.4,297.64 L215.4,297.39 L219.4,297.12 L223.4,296.84 L227.4,296.55 L231.4,296.24 L235.4,295.93 L239.4,295.60 L243.4,295.27 L247.4,294.92 L251.4,294.56 L255.4,294.19 L259.4,293.80 L263.4,293.41 L267.4,293.00 L271.4,292.58 L275.4,292.15 L279.4,291.71 L283.4,291.26 L287.4,290.79 L291.4,290.32 L295.4,289.83 L299.4,289.33 L303.4,288.82 L307.4,288.30 L311.4,287.76 L315.4,287.22 L319.4,286.66 L323.4,286.09 L327.4,285.51 L331.4,284.92 L335.4,284.31 L339.4,283.70 L343.4,283.07 L347.4,282.43 L351.4,281.78 L355.4,281.12 L359.4,280.45 L363.4,279.77 L367.4,279.07 L371.4,278.36 L375.4,277.65 L379.4,276.92 L383.4,276.18 L387.4,275.42 L391.4,274.66 L395.4,273.89 L399.4,273.10 L403.4,272.30 L407.4,271.50 L411.4,270.68 L415.4,269.85 L419.4,269.01 L423.4,268.16 L427.4,267.29 L431.4,266.42 L435.4,265.54 L439.4,264.64 L443.4,263.74 L447.4,262.82 L451.4,261.90 L455.4,260.96 L459.4,260.02 L463.4,259.06 L467.4,258.09 L471.4,257.12 L475.4,256.13 L479.4,255.14 L483.4,254.13 L487.4,253.12 L491.4,252.09 L495.4,251.06 L499.4,250.02 L503.4,248.97 L507.4,247.91 L511.4,246.84 L515.4,245.76 L519.4,244.67 L523.4,243.58 L527.4,242.47 L531.4,241.36 L535.4,240.24 L539.4,239.12 L543.4,237.98 L547.4,236.84 L551.4,235.69 L555.4,234.53 L559.4,233.37 L563.4,232.19 L567.4,231.02 L571.4,229.83 L575.4,228.64 L579.4,227.44 L583.4,226.24 L587.4,225.03 L591.4,223.81 L595.4,222.59 L599.4,221.37 L603.4,220.14 L607.4,218.90 L611.4,217.66 L615.4,216.41 L619.4,215.16 L623.4,213.91 L627.4,212.65 L631.4,211.39 L635.4,210.13 L639.4,208.86 L643.4,207.59 L647.4,206.31 L651.4,205.03 L655.4,203.76 L659.4,202.47 L663.4,201.19 L667.4,199.90 L671.4,198.62 L675.4,197.33 L679.4,196.04 L683.4,194.75 L687.4,193.46 L691.4,192.17 L695.4,190.87 L699.4,189.58 L703.4,188.29 L707.4,187.00 L711.4,185.71 L715.4,184.42 L719.4,183.13 L723.4,181.84 L727.4,180.56 L731.4,179.28 L735.4,178.00 L739.4,176.72 L743.4,175.44 L747.4,174.17 L751.4,172.90 L755.4,171.63 L759.4,170.37 L763.4,169.11 L767.4,167.85 L771.4,166.60 L775.4,165.35 L779.4,164.11 L783.4,162.87 L787.4,161.64 L791.4,160.41 L795.4,159.19 L799.4,157.98 L803.4,156.77 L807.4,155.56 L811.4,154.36 L815.4,153.17 L819.4,151.99 L823.4,150.81 L827.4,149.64 L831.4,148.48 L835.4,147.33 L839.4,146.18 L843.4,145.04 L847.4,143.91 L851.4,142.79 L855.4,141.68 L859.4,140.58 L863.4,139.48 L867.4,138.40 L871.4,137.32 L875.4,136.25 L879.4,135.20 L883.4,134.15 L887.4,133.11 L891.4,132.09 L895.4,131.07 L899.4,130.07 L903.4,129.07 L907.4,128.09 L911.4,127.12 L915.4,126.16 L919.4,125.21 L923.4,124.27 L927.4,123.35 L931.4,122.43 L935.4,121.53 L939.4,120.64 L943.4,119.76 L947.4,118.90 L951.4,118.05 L955.4,117.21 L959.4,116.38 L963.4,115.57 L967.4,114.77 L971.4,113.98 L975.4,113.21 L979.4,112.45 L983.4,111.70 L987.4,110.97 L991.4,110.25 L995.4,109.55 L999.4,108.85 L1003.4,108.18 L1007.4,107.52 L1011.4,106.87 L1015.4,106.23 L1019.4,105.61 L1023.4,105.01 L1027.4,104.42 L1031.4,103.84 L1035.4,103.28 L1039.4,102.73 L1043.4,102.20 L1047.4,101.69 L1051.4,101.18 L1055.4,100.70 L1059.4,100.23 L1063.4,99.77 L1067.4,99.33 L1071.4,98.90 L1075.4,98.49 L1079.4,98.10 L1083.4,97.72 L1087.4,97.36 L1091.4,97.01 L1095.4,96.68 L1099.4,96.36 L1103.4,96.06 L1107.4,95.77 L1111.4,95.50 L1115.4,95.25 L1119.4,95.01 L1123.4,94.79 L1127.4,94.58 L1131.4,94.39 L1135.4,94.21 L1139.4,94.05 L1143.4,93.91 L1147.4,93.78 L1151.4,93.67 L1155.4,93.57 L1159.4,93.49 L1163.4,93.43 L1167.4,93.38 L1171.4,93.35 L1175.4,93.33 L1179.4,93.33 L1183.4,93.34 L1187.4,93.37 L1191.4,93.42 L1195.4,93.48 L1199.4,93.56 L1203.4,93.66 L1207.4,93.77 L1211.4,93.89 L1215.4,94.03 L1219.4,94.19 L1223.4,94.36 L1227.4,94.55 L1231.4,94.76 L1235.4,94.98 L1239.4,95.21 L1243.4,95.47 L1247.4,95.73 L1251.4,96.02 L1255.4,96.32 L1259.4,96.63 L1263.4,96.96 L1267.4,97.30 L1271.4,97.66 L1275.4,98.04 L1279.4,98.43 L1283.4,98.84 L1287.4,99.26 L1291.4,99.70 L1295.4,100.15 L1299.4,100.62 L1303.4,101.10 L1307.4,101.60 L1311.4,102.11 L1315.4,102.64 L1319.4,103.18 L1323.4,103.74 L1327.4,104.31 L1331.4,104.90 L1335.4,105.50 L1339.4,106.12 L1343.4,106.75 L1347.4,107.40 L1351.4,108.06 L1355.4,108.74 L1359.4,109.43 L1363.4,110.13 L1367.4,110.86 L1371.4,111.59 L1375.4,112.34 L1379.4,113.10 L1383.4,113.88 L1387.4,114.67 L1391.4,115.48 L1395.4,116.30 L1399.4,117.13 L1403.4,117.98 L1407.4,118.84 L1411.4,119.72 L1415.4,120.61 L1419.4,121.52 L1423.4,122.43 L1427.4,123.37 L1431.4,124.31 L1435.4,125.27 L1439.4,126.25 L1443.4,127.23 L1447.4,128.23 L1451.4,129.25 L1455.4,130.27 L1459.4,131.32 L1463.4,132.37 L1467.4,133.44 L1471.4,134.52 L1475.4,135.61 L1479.4,136.72 L1483.4,137.84 L1487.4,138.97 L1491.4,140.12 L1495.4,141.28 L1499.4,142.45 L1503.4,143.64 L1507.4,144.84 L1511.4,146.05 L1515.4,147.27 L1519.4,148.51 L1523.4,149.76 L1527.4,151.02 L1531.4,152.29 L1535.4,153.58 L1539.4,154.88 L1543.4,156.19 L1547.4,157.51 L1551.4,158.85 L1555.4,160.20 L1559.4,161.56 L1563.4,162.93 L1567.4,164.32 L1571.4,165.72 L1575.4,167.13 L1579.4,168.55 L1583.4,169.98 L1587.4,171.43 L1591.4,172.88 L1595.4,174.35 L1599.4,175.83 L1603.4,177.32 L1607.4,178.83 L1611.4,180.34 L1615.4,181.87 L1619.4,183.41 L1623.4,184.96 L1626.8,186.29" stroke="#FFBF00"/>
</g>
<g stroke="#b9b9b9" fill="none" stroke-linecap="butt"><line x1="397.2" y1="426.0" x2="756" y2="91.2" stroke-width="12.5"/><polyline points="682.8,113.8 754.6,92.5 728.4,162.5" stroke-width="16.2" stroke-linejoin="miter" stroke-miterlimit="10"/></g>
<g stroke="#666" stroke-width="1.15" fill="none">
<line x1="92" y1="300.5" x2="1657.6" y2="300.5"/>
<line x1="123.4" y1="23.46" x2="123.4" y2="992.00"/>
<line x1="183.54" y1="300.4" x2="183.54" y2="290.2"/>
<line x1="243.67" y1="300.4" x2="243.67" y2="290.2"/>
<line x1="303.81" y1="300.4" x2="303.81" y2="290.2"/>
<line x1="363.94" y1="300.4" x2="363.94" y2="290.2"/>
<line x1="424.08" y1="300.4" x2="424.08" y2="283.2"/>
<line x1="484.22" y1="300.4" x2="484.22" y2="290.2"/>
<line x1="544.35" y1="300.4" x2="544.35" y2="290.2"/>
<line x1="604.49" y1="300.4" x2="604.49" y2="290.2"/>
<line x1="664.62" y1="300.4" x2="664.62" y2="290.2"/>
<line x1="724.76" y1="300.4" x2="724.76" y2="283.2"/>
<line x1="784.90" y1="300.4" x2="784.90" y2="290.2"/>
<line x1="845.03" y1="300.4" x2="845.03" y2="290.2"/>
<line x1="905.17" y1="300.4" x2="905.17" y2="290.2"/>
<line x1="965.30" y1="300.4" x2="965.30" y2="290.2"/>
<line x1="1025.44" y1="300.4" x2="1025.44" y2="283.2"/>
<line x1="1085.58" y1="300.4" x2="1085.58" y2="290.2"/>
<line x1="1145.71" y1="300.4" x2="1145.71" y2="290.2"/>
<line x1="1205.85" y1="300.4" x2="1205.85" y2="290.2"/>
<line x1="1265.98" y1="300.4" x2="1265.98" y2="290.2"/>
<line x1="1326.12" y1="300.4" x2="1326.12" y2="283.2"/>
<line x1="1386.26" y1="300.4" x2="1386.26" y2="290.2"/>
<line x1="1446.39" y1="300.4" x2="1446.39" y2="290.2"/>
<line x1="1506.53" y1="300.4" x2="1506.53" y2="290.2"/>
<line x1="1566.66" y1="300.4" x2="1566.66" y2="290.2"/>
<line x1="1626.80" y1="300.4" x2="1626.80" y2="283.2"/>
<line x1="123.4" y1="991.50" x2="140.6" y2="991.50"/>
<line x1="123.4" y1="956.94" x2="133.8" y2="956.94"/>
<line x1="123.4" y1="922.39" x2="133.8" y2="922.39"/>
<line x1="123.4" y1="887.83" x2="133.8" y2="887.83"/>
<line x1="123.4" y1="853.28" x2="140.6" y2="853.28"/>
<line x1="123.4" y1="818.73" x2="133.8" y2="818.73"/>
<line x1="123.4" y1="784.17" x2="133.8" y2="784.17"/>
<line x1="123.4" y1="749.62" x2="133.8" y2="749.62"/>
<line x1="123.4" y1="715.06" x2="140.6" y2="715.06"/>
<line x1="123.4" y1="680.50" x2="133.8" y2="680.50"/>
<line x1="123.4" y1="645.95" x2="133.8" y2="645.95"/>
<line x1="123.4" y1="611.39" x2="133.8" y2="611.39"/>
<line x1="123.4" y1="576.84" x2="140.6" y2="576.84"/>
<line x1="123.4" y1="542.28" x2="133.8" y2="542.28"/>
<line x1="123.4" y1="507.73" x2="133.8" y2="507.73"/>
<line x1="123.4" y1="473.17" x2="133.8" y2="473.17"/>
<line x1="123.4" y1="438.62" x2="140.6" y2="438.62"/>
<line x1="123.4" y1="404.06" x2="133.8" y2="404.06"/>
<line x1="123.4" y1="369.51" x2="133.8" y2="369.51"/>
<line x1="123.4" y1="334.95" x2="133.8" y2="334.95"/>
<line x1="123.4" y1="265.84" x2="133.8" y2="265.84"/>
<line x1="123.4" y1="231.29" x2="133.8" y2="231.29"/>
<line x1="123.4" y1="196.73" x2="133.8" y2="196.73"/>
<line x1="123.4" y1="162.18" x2="140.6" y2="162.18"/>
<line x1="123.4" y1="127.62" x2="133.8" y2="127.62"/>
<line x1="123.4" y1="93.07" x2="133.8" y2="93.07"/>
<line x1="123.4" y1="58.51" x2="133.8" y2="58.51"/>
<line x1="123.4" y1="23.96" x2="140.6" y2="23.96"/>
</g>
<text class="tk" transform="translate(423.6,352) scale(0.935,1)" text-anchor="middle">0.1</text>
<text class="tk" transform="translate(724.3,352) scale(0.935,1)" text-anchor="middle">0.2</text>
<text class="tk" transform="translate(1024.9,352) scale(0.935,1)" text-anchor="middle">0.3</text>
<text class="tk" transform="translate(1325.6,352) scale(0.935,1)" text-anchor="middle">0.4</text>
<text class="tk" transform="translate(1626.3,352) scale(0.935,1)" text-anchor="middle">0.5</text>
<text class="tk" transform="translate(109.0,38.9) scale(0.935,1)" text-anchor="end">0.04</text>
<text class="tk" transform="translate(109.0,177.1) scale(0.935,1)" text-anchor="end">0.02</text>
<text class="tk" transform="translate(109.0,453.5) scale(0.935,1)" text-anchor="end">−0.02</text>
<text class="tk" transform="translate(109.0,591.7) scale(0.935,1)" text-anchor="end">−0.04</text>
<text class="tk" transform="translate(109.0,730.0) scale(0.935,1)" text-anchor="end">−0.06</text>
<text class="tk" transform="translate(109.0,868.2) scale(0.935,1)" text-anchor="end">−0.08</text>
<text class="tk" transform="translate(109.0,1006.4) scale(0.935,1)" text-anchor="end">−0.10</text>
<text class="ax" font-size="65"><tspan x="1508.3" y="284.1" textLength="47.69" lengthAdjust="spacingAndGlyphs">H</tspan><tspan font-size="30"> </tspan><tspan x="1571.2" y="281.6" font-size="54">(</tspan><tspan x="1589.9" y="284.1" textLength="37.32" lengthAdjust="spacingAndGlyphs">T</tspan><tspan x="1629.2" y="281.6" font-size="54">)</tspan></text>
<text fill="#000" style="font-family:'Liberation Serif',serif;font-weight:bold"><tspan x="351.2" y="466.3" textLength="34.55" lengthAdjust="spacingAndGlyphs" style="font-style:italic;font-size:69px">τ</tspan><tspan x="387.3" y="479" style="font-size:59.5px">2</tspan></text>
<text class="lg" transform="translate(440.9,524.2) scale(0.966,1)" text-anchor="end" fill="#0000ff">0.6 ps</text>
<text class="lg" transform="translate(438.8,581.8) scale(0.966,1)" text-anchor="end" fill="#ff7f0e">2 ps</text>
<text class="lg" transform="translate(436.3,648.3) scale(0.966,1)" text-anchor="end" fill="#00aa00">3 ps</text>
<text class="lg" transform="translate(436.3,712.2) scale(0.966,1)" text-anchor="end" fill="#ff0000">4 ps</text>
<text class="lg" transform="translate(429.9,779.1) scale(0.966,1)" text-anchor="end" fill="#8055aa">4.5 ps</text>
<text class="lg" transform="translate(430.4,845.6) scale(0.966,1)" text-anchor="end" fill="#aa5500">5 ps</text>
<text class="lg" transform="translate(433.7,912.1) scale(0.966,1)" text-anchor="end" fill="#0080ff">5.5 ps</text>
<text class="lg" transform="translate(433.7,973.5) scale(0.966,1)" text-anchor="end" fill="#ffc870">6 ps</text>
</svg></body></html>
